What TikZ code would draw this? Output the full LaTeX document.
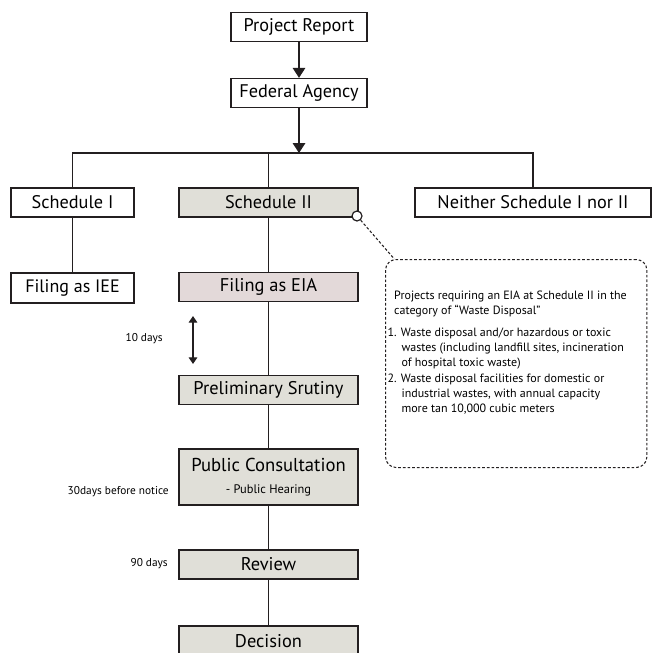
\documentclass[tikz,border=0pt]{standalone}
\usepackage{fontspec}
\setmainfont{PT Sans}
\usepackage{xcolor}
\usetikzlibrary{arrows.meta}

\definecolor{ink}{RGB}{35,31,32}
\definecolor{stepgray}{RGB}{224,223,216}
\definecolor{eiapink}{RGB}{227,217,217}

\begin{document}
\begin{tikzpicture}[
    x=0.75pt, y=-0.75pt,
    box/.style={draw=ink, line width=1pt, minimum height=21.75pt, inner sep=0pt, align=center, font=\fontsize{13.7}{16}\selectfont},
    stepbox/.style={box, fill=stepgray, minimum width=134.25pt, font=\fontsize{13.8}{16}\selectfont},
    link/.style={draw=ink, line width=0.9pt},
    arr/.style={link, -{Triangle[length=7.5pt,width=9.5pt]}},
    dbl/.style={draw=ink, line width=0.8pt, {Triangle[length=5pt,width=6.5pt]}-{Triangle[length=5pt,width=6.5pt]}},
    lbl/.style={anchor=east, inner sep=0pt, font=\fontsize{8.5}{10}\selectfont},
    note/.style={draw=ink, line width=0.8pt, dash pattern=on 2pt off 1.5pt, rounded corners=8pt, anchor=north west, inner xsep=1.5pt, inner ysep=0.5pt}
]
    \useasboundingbox (0,0) rectangle (651,653);

    \node[box, minimum width=102pt] (report) at (299,27) {Project Report};
    \node[box, minimum width=102pt] (agency) at (299,93) {Federal Agency};
    \coordinate (split) at (299,153);

    \node[box, minimum width=92.25pt] (sch1) at (72.5,202.5) {Schedule I};
    \node[box, fill=stepgray, minimum width=134.25pt] (sch2) at (268.5,202.5) {Schedule II};
    \node[box, minimum width=177pt] (neither) at (533,202.5) {Neither Schedule I nor II};

    \node[box, minimum width=92.25pt, minimum height=22.5pt, font=\fontsize{13.5}{16}\selectfont] (iee) at (72.5,288) {Filing as IEE};
    \node[stepbox, fill=eiapink] (eia) at (268.5,287) {Filing as EIA};
    \node[stepbox] (prelim) at (268.5,390) {Preliminary Srutiny};
    \node[stepbox, minimum height=42pt] (consult) at (268.5,477) {\fontsize{14}{16}\selectfont Public Consultation\\[1pt]
        \fontsize{9.3}{11}\selectfont - Public Hearing};
    \node[stepbox] (review) at (268.5,564.5) {Review};
    \node[stepbox, minimum height=22.5pt] (decision) at (268.5,641) {Decision};

    % time labels
    \node[lbl] (lblTen) at (163,339) {10 days};
    \node[lbl] (lblThirty) at (169,492) {30days before notice};
    \node[lbl] (lblNinety) at (168,564) {90 days};
    \coordinate (tenTop) at (193,316);
    \coordinate (tenBot) at (193,364);

    % callout
    \node[note] (note) at (385,259) {\parbox[t][155pt][t]{193pt}{\fontsize{9}{11.5}\selectfont
        \vspace*{23pt}
        \hspace*{5pt}Projects requiring an EIA at Schedule II in the\\
        \hspace*{5pt}category of “Waste Disposal”\par
        \vspace{4.5pt}
        \hangindent=10.5pt\hangafter=1 1. Waste disposal and/or hazardous or toxic\\
        wastes (including landfill sites, incineration\\
        of hospital toxic waste)\par
        \hangindent=10.5pt\hangafter=1 2. Waste disposal facilities for domestic or\\
        industrial wastes, with annual capacity\\
        more tan 10,000 cubic meters\par}};
    \node[circle, draw=ink, fill=white, line width=0.9pt, minimum size=7.5pt, inner sep=0pt] (pin) at (357,216) {};

    \draw[arr] (report) -- (agency);
    \draw[arr] (agency) -- (split);
    \draw[link] (split) -| (sch1);
    \draw[link] (split) -| (neither);
    \draw[link] (split -| sch2) -- (sch2);
    \draw[link] (sch1) -- (iee);
    \draw[link] (sch2) -- (eia);
    \draw[link] (eia) -- (prelim);
    \draw[link] (prelim) -- (consult);
    \draw[link] (consult) -- (review);
    \draw[link] (review) -- (decision);
    \draw[dbl] (tenTop) -- (tenBot);
    \draw[draw=ink, line width=0.8pt, dash pattern=on 2pt off 1.5pt] (pin) -- ([xshift=7pt]note.north west);
\end{tikzpicture}
\end{document}
